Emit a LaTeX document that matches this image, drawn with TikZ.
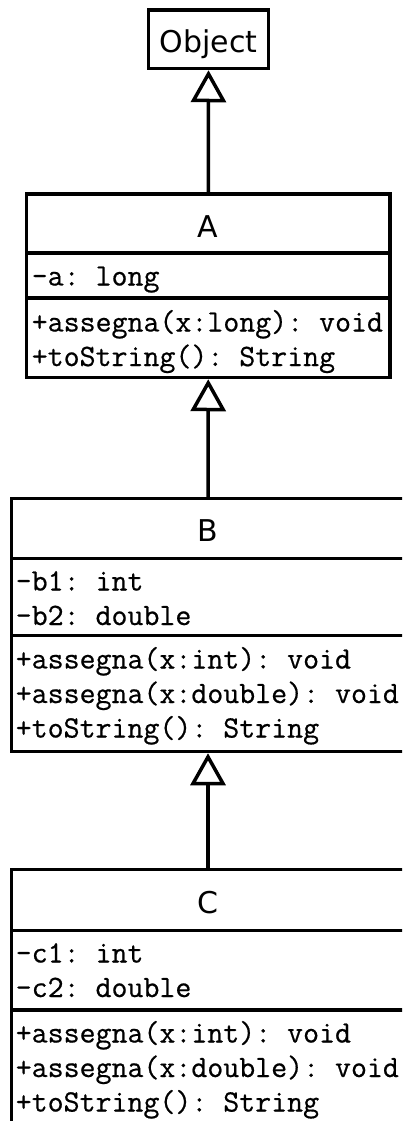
\documentclass[tikz,border=0pt]{standalone}
\usepackage{fontspec}
\setmainfont{DejaVu Sans}
\newfontfamily\membfont{Latin Modern Mono}[FakeBold=0.6,WordSpace={1,0,0}]
\usetikzlibrary{arrows.meta}
\begin{document}
\frenchspacing
\begin{tikzpicture}[x=1pt,y=-1pt,line width=3.5pt,
  cls/.style={draw, rectangle, inner sep=0pt, outer sep=0pt, anchor=north west},
  ttl/.style={font=\fontsize{30}{36}\selectfont, anchor=base, inner sep=0pt},
  mem/.style={font=\fontsize{31}{34.5}\selectfont\membfont\frenchspacing, anchor=base west, inner sep=0pt},
  inherit/.style={-{Triangle[open,length=32pt,width=35pt]}, shorten >=1.75pt, shorten <=1pt}]
\useasboundingbox (0,0) rectangle (402,1121);
\clip (0,0) rectangle (402,1121);
% Object
\node[cls, minimum width=120pt, minimum height=58.5pt] (Object) at (148.5,10) {};
\node[ttl] (Objectname) at (208.5,52.5) {Object};
% A
\node[cls, minimum width=363.5pt, minimum height=183.5pt] (A) at (26.5,194) {};
\node[ttl] (Aname) at (208.25,237) {A};
\draw (A.west |- 0,253) -- (A.east |- 0,253);
\draw (A.west |- 0,298) -- (A.east |- 0,298);
\node[mem] (A1) at (30,285.5) {-a: long};
\node[mem] (A2) at (30,331.5) {+assegna(x:long): void};
\node[mem] (A3) at (30,366) {+toString(): String};
% B
\node[cls, minimum width=393pt, minimum height=253pt] (B) at (11.5,498.5) {};
\node[ttl] (Bname) at (208,541.5) {B};
\draw (B.west |- 0,558.5) -- (B.east |- 0,558.5);
\draw (B.west |- 0,635.5) -- (B.east |- 0,635.5);
\node[mem] (B1) at (14,590.5) {-b1: int};
\node[mem] (B2) at (14,625) {-b2: double};
\node[mem] (B3) at (14,668.5) {+assegna(x:int): void};
\node[mem] (B4) at (14,703) {+assegna(x:double): void};
\node[mem] (B5) at (14,737.5) {+toString(): String};
% C
\node[cls, minimum width=393pt, minimum height=257pt] (C) at (11.5,869.5) {};
\node[ttl] (Cname) at (208,913) {C};
\draw (C.west |- 0,930.5) -- (C.east |- 0,930.5);
\draw (C.west |- 0,1010) -- (C.east |- 0,1010);
\node[mem] (C1) at (14,962.5) {-c1: int};
\node[mem] (C2) at (14,997) {-c2: double};
\node[mem] (C3) at (14,1042.5) {+assegna(x:int): void};
\node[mem] (C4) at (14,1077) {+assegna(x:double): void};
\node[mem] (C5) at (14,1111.5) {+toString(): String};
% inheritance
\draw[inherit] (A.north) -- (Object.south);
\draw[inherit] (B.north) -- (A.south);
\draw[inherit] (C.north) -- (B.south);
\end{tikzpicture}
\end{document}
